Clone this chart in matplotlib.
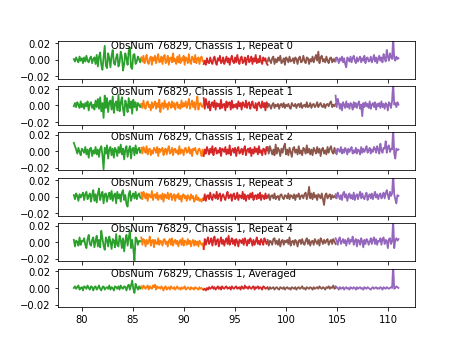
import matplotlib
import numpy as np

matplotlib.use("Agg")
import matplotlib.pyplot as plt

# frequency bands (GHz), one colour per band
BAND_EDGES = [79.25, 85.85, 91.95, 98.2, 104.85, 111.0]
BAND_COLORS = ["C2", "C1", "C3", "C5", "C4"]

OBSNUM = 76829
CHASSIS = 1
PANEL_NAMES = ["Repeat 0", "Repeat 1", "Repeat 2", "Repeat 3", "Repeat 4", "Averaged"]

# spectra per band, units of 1e-3
repeat_0 = [
    [1, -2, 3, 0, -3, 4, -1, 2, -4, 3, -2, 5, -1, -3, 2, 4, -4, 1, 3, -5,
     6, -8, 4, 9, -6, -12, 3, 17, -7, -10, 8, 2, -9, 5, 12, -4, -6, 3, 7, -8,
     -3, 10, 4, -13, -5, 8, 2, -6, 11, 15, -9, -11, 6, 7, -5, -2, 4, 1, -3, 2],
    [3, -2, 5, -4, 1, 6, -3, -5, 2, 4, -6, 3, -1, 5, -4, 2, 7, -3, -2, 4,
     -5, 3, 6, -4, -1, 5, -6, 2, 3, -3, 8, -2, 1, -5, 4, -3, 6, -4, 2, -1,
     5, -6, 3, 1, -4, 7, -2, -5, 4, 2, -3, 6, -4, 1, 3, -5, 2, 4, -2, -1],
    [-5, -1, -6, 2, -3, -4, 3, -2, -5, 1, 4, -3, -6, 2, -1, 5, -4, -2, 3, -5,
     -1, 4, -3, 2, -6, 1, 5, -2, -4, 3, -3, 6, -1, -5, 2, 4, -4, -2, 3, -6,
     1, 5, -3, -1, 4, -5, 2, -2, 6, -4, 1, -3, 5, -2, -5, 3, -1, 2, -4, -6],
    [-2, 3, -1, -4, 2, 4, -5, 1, -3, 3, -1, 5, -4, -2, 2, -6, 3, 1, -3, 4,
     -2, -1, 2, -4, 3, 1, -5, 2, 4, -3, -2, 5, -1, -4, 3, 2, -5, 1, -2, 4,
     -3, 2, 6, -1, 10, -4, 3, 5, -2, 1, -3, 4, -1, -4, 2, 3, -3, 1, -2, 2],
    [-2, 3, 1, -4, 2, -1, 4, -3, 2, -5, -9, 3, 1, -2, 4, -3, 2, 5, -1, -4,
     3, -2, 1, 4, -3, 2, -1, 5, -4, 2, 3, -2, -1, 4, -3, 1, 6, -2, 3, -4,
     2, 5, -1, 3, -3, 7, 2, -2, 12, 4, -1, 8, 3, 1, 28, 2, -1, 4, 1, 2],
]
repeat_1 = [
    [-1, 3, -2, 4, 1, -3, 5, -2, 2, -4, 3, -1, 5, -6, 2, 4, -3, 1, -5, 6,
     -2, 8, -4, 10, -7, 3, -15, 12, -3, 9, -8, 4, 6, -5, 11, -9, 2, 5, -6, 13,
     -7, 3, 10, -4, -12, 6, 1, -8, 9, -3, 5, -10, 7, -2, 4, -6, 3, 1, -2, 1],
    [2, -3, 6, -1, -4, 3, 5, -2, 1, -6, 4, -3, 2, 5, -4, 3, -2, 7, -8, 1,
     3, -4, 6, -2, 2, -5, 4, 1, -3, 5, -2, 3, -5, 2, 4, -3, 1, -4, 6, -2,
     3, -1, 5, -3, 2, 8, -4, 1, 6, -2, 4, -5, 3, 11, -5, 2, 3, -1, -2, 3],
    [9, -4, 8, 2, -3, 5, -6, 1, 4, -2, 6, -5, 3, -1, 2, -4, 7, -3, 1, 2,
     -6, 5, -2, 3, 4, -5, 6, -3, 1, -2, 2, -4, 5, -1, 3, -5, 4, 1, -2, 6,
     -3, 2, 4, -4, 1, 5, -2, -3, 3, -6, 2, 4, -1, -3, 5, -2, 3, -6, 4, -1],
    [-2, 2, 0, -4, 1, 3, -3, 1, -1, 2, -4, 1, 2, -2, 3, -3, 1, -1, 2, -2,
     -4, 3, 0, -1, 2, -3, 1, 2, -2, 3, -3, 0, 1, -2, 4, -2, -1, 3, -3, 1,
     2, -2, 0, 4, -2, 1, 3, -1, -2, 2, -3, 1, 2, -1, 3, 5, -2, 1, -1, 2],
    [12, -2, 8, 3, -4, 2, -6, 4, 1, -3, 5, -2, 2, -4, 3, 1, -5, 4, -2, 3,
     -3, 2, 5, -4, 1, -13, 3, -2, 4, -1, 2, -3, 5, -4, 1, 3, -2, 4, -5, 2,
     -1, 3, -3, 5, -2, 2, -4, 3, 1, -6, 4, 2, -3, 6, 28, 1, 3, -2, 4, 1],
]
repeat_2 = [
    [10, 6, 2, -3, 4, -1, -5, 3, 1, -2, 5, -4, 2, -8, 3, 4, -6, 1, -3, 5,
     -4, 2, -7, 3, 6, -5, -22, 4, -3, 7, -9, 2, 5, -5, 3, -8, 4, 1, -6, 5,
     -2, 8, -4, 3, -10, 2, 6, -7, 1, 6, -9, 3, 4, -5, 7, -3, 2, 4, -2, 1],
    [4, -3, 5, 1, -2, 6, -4, 2, 3, -5, 1, -3, 4, 2, -2, 5, -6, 3, -1, 2,
     4, -5, 1, 3, -4, 2, 6, -3, -1, 4, -5, 2, 3, -2, 1, -4, 6, -3, 2, 1,
     -5, 3, 4, -2, -1, 5, -3, 2, -6, 3, 1, 4, -2, -4, 2, 3, -1, -6, 2, -4],
    [-6, 2, -3, 5, 1, -4, 3, -2, 6, -5, 2, 4, -3, 1, -2, 4, -6, 3, 2, -1,
     5, -4, 2, -3, 7, -5, 1, 3, -2, 4, -6, 2, 5, -3, -1, 3, -4, 2, 6, -5,
     1, 3, -2, 4, -6, 2, -3, 5, -1, 3, -4, 6, -2, 1, -5, 3, 2, -4, 5, 1],
    [5, -3, 6, 1, -4, 2, -5, 8, -3, 4, 1, -6, 3, -2, 5, 9, -4, 2, -5, 4,
     -1, -7, 3, 5, -2, 2, -4, 6, -3, 1, -5, 4, 2, -3, 7, -2, 3, -4, 2, -5,
     4, 1, -3, 5, -2, 3, -6, 2, 4, -3, 1, -4, 5, -2, 3, 6, -1, -3, 4, -2],
    [2, -4, 3, 1, -1, 5, -3, 2, -2, 4, 1, -4, 3, -1, 2, 5, -3, 1, -2, 4,
     -3, 2, 1, -4, 5, -2, 3, -1, 2, 6, -2, 1, 4, -3, 2, -1, 5, 3, -2, 6,
     2, -3, 9, 1, -2, 4, 3, 12, -2, 5, 7, -1, 3, 2, 28, -3, -9, 3, 1, 2],
]
repeat_3 = [
    [2, -3, 4, 1, -5, 3, -1, 2, 5, -4, 3, 6, -3, 1, 4, -6, 2, 8, -5, 3,
     -7, 4, 10, -4, 2, 6, -8, 3, 4, -6, 1, 5, -3, 7, -5, 2, 4, -8, 6, -2,
     3, -6, 5, 8, -4, 2, -9, -12, 3, 7, -5, 1, 4, -2, 6, -3, 2, 4, -1, -2],
    [5, -3, 6, 2, -2, 4, -5, 3, 1, -1, 7, -4, 2, 3, -2, 5, -4, 1, 2, -3,
     4, -6, 3, 1, -2, 5, -3, 2, 4, -4, 1, 3, -5, 2, -1, 4, -3, 1, -6, 2,
     3, -2, 1, -5, 2, -1, -4, 3, -2, 1, -6, -3, 2, -4, -1, -5, -3, -6, -2, -3],
    [-4, 3, -5, 1, 2, -3, 5, -1, -4, 3, 1, -2, 6, -3, 2, 4, -5, 1, 3, -1,
     -4, 2, 6, -2, 1, 3, -5, 2, 4, -3, -1, 5, -4, 2, 1, -2, 6, -3, 3, -5,
     1, 2, -3, 4, -1, 5, -4, 1, 2, -3, 3, -2, 5, -4, 2, 1, -3, 4, -2, 1],
    [-1, 3, -4, 1, 2, -2, 4, -3, 0, 1, -4, 2, 3, -1, -3, 2, 1, -2, 4, -3,
     2, 1, -2, 3, -4, 2, 0, 4, -3, 1, 2, -2, 3, 5, -3, 2, 12, -2, 4, -3,
     5, -1, 2, -4, 3, 1, -2, 4, -3, -10, 2, 4, -2, 1, 3, -3, 2, -1, 1, -1],
    [3, -2, 5, 1, -3, 2, -4, 4, 6, -1, 3, -5, 1, 4, -2, 2, -3, 5, -4, 1,
     3, -3, 2, 6, -2, 4, -1, -3, 2, 5, -4, 1, 3, -2, 4, -3, 2, 6, -1, 3,
     -3, 2, 4, -2, 1, 5, -2, 4, 8, 2, -3, 6, 1, 4, 28, 3, -3, -8, 2, 1],
]
repeat_4 = [
    [3, -5, 2, 1, -4, 6, -3, 2, 1, 5, -3, -7, 4, 9, -2, -4, 3, 6, -6, 2,
     8, -5, 3, -6, 14, 5, -4, -9, 6, 3, -5, 7, 1, -8, 4, 2, -6, 10, -3, -5,
     8, 3, -7, 5, -11, 2, 9, -4, 6, 14, -7, 3, -8, -22, 6, 4, -3, 2, 1, 2],
    [6, -3, 4, 2, -5, 3, -2, 1, 7, -4, 2, 3, -6, 3, -1, -2, 5, -3, 2, 1,
     -4, 3, 4, -2, 1, -5, 2, 4, -3, 5, -4, 1, 3, -2, 2, -5, 1, 3, -3, 5,
     -4, 2, 1, -3, 4, -2, 2, -5, 1, 3, -4, 2, -3, 1, -5, 2, -1, -3, -1, -8],
    [-8, 4, -3, 2, 6, -2, 1, 5, -4, 3, 7, -3, 2, 4, -5, 1, 6, -2, 3, -4,
     2, 5, -2, 8, -3, 1, 5, -2, 3, -4, 4, 1, -5, 3, 2, -1, 4, -3, 5, 1,
     -4, 3, -1, 5, 2, -4, 3, -3, 1, 6, -2, 2, -3, 4, 1, -3, 5, 2, -2, 1],
    [3, -4, 2, 1, -3, 4, 5, -2, 2, -3, 4, -5, 1, 3, -3, 2, 0, 3, -2, 6,
     -4, 1, 2, -3, 3, 1, -5, 2, 3, -2, 4, -1, -3, 2, 5, -2, 3, -4, 1, 2,
     -3, 4, 1, -2, 3, -4, 5, 2, -2, 3, -1, 2, 4, -3, 1, 3, -2, 4, 1, -2],
    [5, 2, -3, 4, 6, -2, 1, 4, -1, 3, -4, 2, 5, -2, 3, 1, 7, -3, 2, 4,
     -5, 3, 2, -3, 5, 1, -6, 3, -2, 4, 2, -3, 1, 5, -2, 3, 6, -2, 4, -3,
     2, 1, 5, -3, 4, 6, -2, 3, 2, -7, 4, 5, -2, 1, 28, -7, 3, 5, 2, 4],
]
averaged = [
    [0, 2, -1, 1, 3, -2, 0, 1, -3, 2, 1, -1, 3, 0, -2, 2, 1, -3, 1, 2,
     -2, 0, 3, -1, -3, 1, 2, -2, 0, 1, -1, 3, -2, 1, 0, -3, 2, 1, -1, 2,
     -2, 3, 0, -1, 2, 1, -3, 2, 4, -2, 3, 9, -1, -6, 5, 1, -2, 2, -1, 1],
    [2, -1, 3, 1, -1, 1, 3, -2, 2, 0, -1, 3, 1, 4, -2, 2, 0, 1, -1, 2,
     0, -3, 1, 2, -2, 0, 1, -2, 2, 0, -1, 1, -2, 0, 2, -1, 0, -2, 1, -1,
     0, 2, -2, -1, 1, 0, -2, 1, -1, 0, -2, 1, 0, -1, -2, 1, -1, 0, -2, -1],
    [-2, -1, -3, 0, -2, 1, -1, 0, 2, -1, 1, -2, 0, 2, -1, 1, -2, 2, 0, -1,
     1, 2, -1, 0, 1, -2, 2, 0, -1, 1, 2, -1, 0, 1, -2, 2, 0, -1, 3, 0,
     1, -1, 2, 0, -1, 1, 2, -2, 1, 0, 2, -1, 1, 0, -2, 2, 1, -1, 0, 1],
    [0, -2, 1, -1, 0, 1, -2, 0, 1, -1, -2, 1, 0, -1, 1, -2, 0, 1, -1, 0,
     -2, 1, 0, -1, 1, -2, 0, 1, -1, 0, 2, -1, 0, -2, 1, 0, -1, 1, 0, -2,
     1, -1, 0, 1, -1, 2, 0, -1, 1, 0, -2, 1, 0, 2, -1, 1, 0, 3, -1, 0],
    [2, 1, 0, -2, 1, -1, 0, 1, -2, 0, 1, -1, 0, -2, 1, 0, -1, 1, 0, -2,
     1, -1, 0, 1, -1, 0, -2, 1, 0, -1, 1, 0, -1, -2, 0, 1, -1, 0, 1, -1,
     0, -1, 1, 0, -2, 1, 0, -1, 1, 0, -1, 0, 1, 0, 28, -1, 0, 2, 1, 0],
]

panels = [repeat_0, repeat_1, repeat_2, repeat_3, repeat_4, averaged]

fig, axes = plt.subplots(len(panels), 1, sharex=True, figsize=(6.4, 4.8), dpi=72)

for ax, name, bands in zip(axes, PANEL_NAMES, panels):
    for b, vals in enumerate(bands):
        freq = np.linspace(BAND_EDGES[b], BAND_EDGES[b + 1], len(vals))
        ax.plot(freq, np.asarray(vals) * 1e-3, color=BAND_COLORS[b], lw=1.8)
    ax.set_ylim(-0.023, 0.023)
    ax.text(0.15, 0.8, f"ObsNum {OBSNUM}, Chassis {CHASSIS}, {name}",
            transform=ax.transAxes)

fig.savefig("out.png", dpi=72)
